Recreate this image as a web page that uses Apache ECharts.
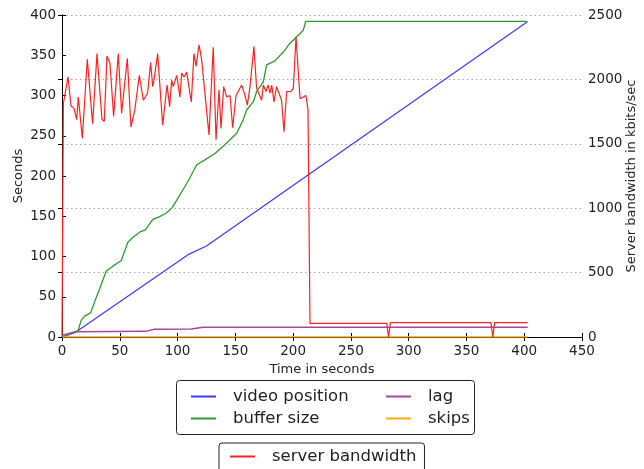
<!DOCTYPE html>
<html>
<head>
<meta charset="utf-8">
<script src="https://cdn.jsdelivr.net/npm/echarts@6/dist/echarts.min.js"></script>
<style>
  html, body { margin: 0; padding: 0; background: #fff; }
  #main { width: 644px; height: 469px; }
</style>
</head>
<body>
<div id="main"></div>
<script>
// time in seconds (x) and values
const blueTime = [0, 13, 110, 125, 403];
const blueVal = [0, 7, 103, 113, 392];

const greenTime = [0, 1, 13.8, 16.7, 19.6, 24.8, 28.8, 32.6, 38.3, 44.1, 51.3, 57.1, 61.4, 68.1, 72.1, 78.7, 83.7, 90.3, 95.5, 101.8,
  106.4, 110, 116.6, 123.7, 132.4, 142.5, 151.2, 156.9, 159.8, 165.5, 168.5, 174.2, 177.1, 184.3, 191.5, 197.3, 206, 208.8, 210.9, 402];
const greenVal = [0, 2.5, 7.5, 21, 26, 30, 46, 60, 82, 88, 95, 118, 124, 131, 133, 146, 149, 154, 161, 176,
  187, 196, 214, 220, 228, 241, 253, 270, 282, 292, 305, 317, 338, 343, 354, 365, 377, 381, 392, 392];

const purpleTime = [0, 13, 72, 80, 112, 122, 403];
const purpleVal = [0, 6.5, 7, 9.5, 10, 12, 12];

const orangeTime = [0, 403];
const orangeVal = [0, 0];

// server bandwidth, kbits/sec (right axis)
const redTime = [0, 1.2, 5.2, 7.8, 10.4, 12.7, 14.1, 17.6, 21.9, 26.5, 30.3, 34.6, 36.6, 38.9, 41.5, 44.7, 48.7, 51.6, 56.5, 59.7,
  63, 66.9, 68.6, 70.4, 74.1, 76.7, 78.5, 79.6, 82.8, 87.1, 90.9, 93.2, 94.9, 96.3, 99.3, 102.1, 103.6, 105.6, 107.9, 111.9,
  114.2, 116, 118.6, 120.9, 127.2, 130.9, 133.3, 135.9, 137.6, 139.9, 142.5, 145.4, 147.7, 150.6, 155.5, 158.4, 160.4, 162.7, 166.1, 168.4,
  172.8, 174.2, 176.5, 178.5, 180, 181.5, 183.5, 185.7, 190, 192.1, 194.4, 198, 200.2, 202.5, 206, 208.8, 211.1, 212.9, 214.6,
  281, 282.6, 284.2, 371.2, 372.8, 374.4, 403];
const redVal = [0, 1813, 2019, 1794, 1775, 1688, 1863, 1544, 2156, 1656, 2200, 1688, 1675, 2181, 2125, 1713, 2200, 1738, 2163, 1631,
  1763, 2031, 2044, 1838, 1894, 2131, 1944, 1994, 2200, 1644, 1956, 1788, 1994, 1944, 2031, 1863, 2050, 2019, 2056, 1825,
  2200, 2100, 2269, 2150, 1569, 2250, 1531, 1919, 1619, 1944, 1863, 1875, 1625, 1875, 1956, 1875, 1800, 1944, 2256, 1931,
  1838, 1956, 1906, 1956, 1894, 1956, 1825, 1944, 1838, 1594, 1906, 1906, 1931, 2331, 1850, 1863, 1875, 1763, 106,
  106, 0, 112, 112, 0, 112, 112];

const xTicks = { min: 0, max: 450, interval: 50 };
const leftTicks = { min: 0, max: 400, interval: 50 };
const rightTicks = { min: 0, max: 2500, interval: 500 };

function pairs(xs, ys) {
  return xs.map((x, i) => [x, ys[i]]);
}

const chart = echarts.init(document.getElementById('main'), null, { renderer: 'canvas' });

const font = 'DejaVu Sans';
const axisLine = { show: true, lineStyle: { color: '#000', width: 1 } };
const tick = { show: true, inside: true, length: 4, lineStyle: { color: '#000' } };
const label = { color: '#222', fontSize: 13.5, fontFamily: font, formatter: (v) => String(v) };
const nameStyle = { color: '#222', fontSize: 13, fontFamily: font };

function lineSeries(name, data, color, yIndex, width) {
  return {
    name: name,
    type: 'line',
    data: data,
    yAxisIndex: yIndex,
    showSymbol: false,
    symbol: 'none',
    animation: false,
    lineStyle: { color: color, width: width },
    itemStyle: { color: color }
  };
}

const legendText = { color: '#222', fontSize: 16.5, fontFamily: font, padding: [0, 0, 0, 12] };

var option = {
  animation: false,
  grid: { left: 62, right: 62, top: 15, bottom: 132, outerBoundsMode: 'none', containLabel: false },
  xAxis: [
    {
      type: 'value', min: xTicks.min, max: xTicks.max, interval: xTicks.interval,
      name: 'Time in seconds', nameLocation: 'middle', nameGap: 26, nameMoveOverlap: false, nameTextStyle: nameStyle,
      axisLine: axisLine, axisTick: tick, axisLabel: Object.assign({ margin: 7 }, label),
      splitLine: { show: false }
    },
    {
      type: 'value', position: 'top', min: xTicks.min, max: xTicks.max, interval: xTicks.interval,
      axisLine: axisLine, axisTick: tick, axisLabel: { show: false }, splitLine: { show: false }
    }
  ],
  yAxis: [
    {
      type: 'value', min: leftTicks.min, max: leftTicks.max, interval: leftTicks.interval,
      name: 'Seconds', nameLocation: 'middle', nameGap: 37, nameMoveOverlap: false, nameTextStyle: nameStyle,
      axisLine: axisLine, axisTick: tick, axisLabel: Object.assign({ margin: 6 }, label),
      splitLine: { show: false }
    },
    {
      type: 'value', position: 'right', min: rightTicks.min, max: rightTicks.max, interval: rightTicks.interval,
      name: 'Server bandwidth in kbits/sec', nameLocation: 'middle', nameGap: 43, nameMoveOverlap: false, nameTextStyle: nameStyle,
      axisLine: axisLine, axisTick: tick, axisLabel: Object.assign({ margin: 6 }, label),
      splitLine: { show: true, lineStyle: { color: '#aaa', width: 1, type: [1.5, 3] } }
    }
  ],
  legend: [
    {
      data: ['video position', 'buffer size'], orient: 'vertical', left: 186, top: 383,
      itemGap: 5, itemWidth: 25, itemHeight: 2, icon: 'rect', textStyle: legendText
    },
    {
      data: ['lag', 'skips'], orient: 'vertical', left: 381, top: 383,
      itemGap: 5, itemWidth: 25, itemHeight: 2, icon: 'rect', textStyle: legendText
    },
    {
      data: ['server bandwidth'], left: 219, top: 443, padding: [5, 8, 10, 11],
      borderColor: '#222', borderWidth: 1, borderRadius: 3,
      itemWidth: 25, itemHeight: 2, icon: 'rect', textStyle: legendText
    }
  ],
  graphic: [
    {
      type: 'rect', left: 174, top: 378, silent: true,
      shape: { width: 298, height: 54, r: 3 },
      style: { fill: 'none', stroke: '#222', lineWidth: 1 }
    }
  ],
  series: [
    lineSeries('video position', pairs(blueTime, blueVal), '#3a3aff', 0, 1.2),
    lineSeries('buffer size', pairs(greenTime, greenVal), '#2f9a2f', 0, 1.3),
    lineSeries('lag', pairs(purpleTime, purpleVal), '#a347a3', 0, 1.5),
    lineSeries('skips', pairs(orangeTime, orangeVal), '#ffaa11', 0, 1.5),
    lineSeries('server bandwidth', pairs(redTime, redVal), '#ff2222', 1, 1.2)
  ]
};

chart.setOption(option);
</script>
</body>
</html>
